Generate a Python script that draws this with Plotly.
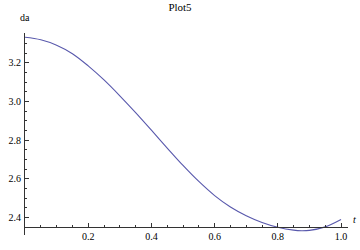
import plotly.graph_objects as go

t_vals = [0.00, 0.05, 0.10, 0.15, 0.20, 0.25, 0.30, 0.35, 0.40, 0.45, 0.50,
          0.55, 0.60, 0.65, 0.70, 0.75, 0.80, 0.85, 0.875, 0.90, 0.95, 1.00]
da_vals = [3.333, 3.320, 3.292, 3.248, 3.185, 3.112, 3.030, 2.943, 2.852, 2.760, 2.670,
           2.587, 2.514, 2.455, 2.410, 2.375, 2.350, 2.335, 2.332, 2.334, 2.352, 2.390]

x_ticks = [0.2, 0.4, 0.6, 0.8, 1.0]
x_labels = ["0.2", "0.4", "0.6", "0.8", "1.0"]
y_ticks = [2.4, 2.6, 2.8, 3.0, 3.2]
y_labels = ["2.4", "2.6", "2.8", "3.0", "3.2"]

x_range = [0, 1.022]
y_range = [2.31, 3.355]
axis_cross = 2.35

font = "Liberation Serif, Times New Roman, serif"

fig = go.Figure(go.Scatter(x=t_vals, y=da_vals, mode="lines", line_shape="spline",
                           line=dict(color="#5858ac", width=1.1), hoverinfo="skip"))

fig.update_layout(
    width=360, height=250,
    margin=dict(l=17, r=12, t=33, b=8),
    paper_bgcolor="white", plot_bgcolor="white",
    showlegend=False,
    font=dict(family=font, size=10, color="black"),
    title=dict(text="Plot5", x=0.5, xanchor="center", y=0.985, yanchor="top",
               font=dict(family=font, size=11, color="black")),
    xaxis=dict(range=x_range, showgrid=False, zeroline=False, showline=True,
               anchor="free",
               position=(axis_cross - y_range[0]) / (y_range[1] - y_range[0]),
               linecolor="#333333", linewidth=1, ticks="inside", ticklen=4,
               tickcolor="#333333", tickvals=x_ticks, ticktext=x_labels,
               minor=dict(tickvals=[i * 0.05 for i in range(1, 21)], ticks="inside",
                          ticklen=2, tickcolor="#333333", showgrid=False),
               tickfont=dict(family=font, size=10), ticklabelstandoff=0),
    yaxis=dict(range=y_range, showgrid=False, zeroline=False, showline=True,
               linecolor="#333333", linewidth=1, ticks="inside", ticklen=4,
               tickcolor="#333333", tickvals=y_ticks, ticktext=y_labels,
               minor=dict(tickvals=[2.35 + i * 0.05 for i in range(0, 20)], ticks="inside",
                          ticklen=2, tickcolor="#333333", showgrid=False),
               tickfont=dict(family=font, size=10), ticklabelstandoff=1),
    annotations=[
        dict(text="da", xref="paper", yref="paper", x=0, y=1, xshift=0, yshift=8,
             xanchor="center", yanchor="bottom", showarrow=False,
             font=dict(family=font, size=10, color="black")),
        dict(text="<i>t</i>", xref="paper", yref="y", x=1, y=axis_cross, xshift=3, yshift=0,
             xanchor="left", yanchor="bottom", showarrow=False,
             font=dict(family=font, size=10, color="black")),
    ],
)

fig.write_html("out.html")
